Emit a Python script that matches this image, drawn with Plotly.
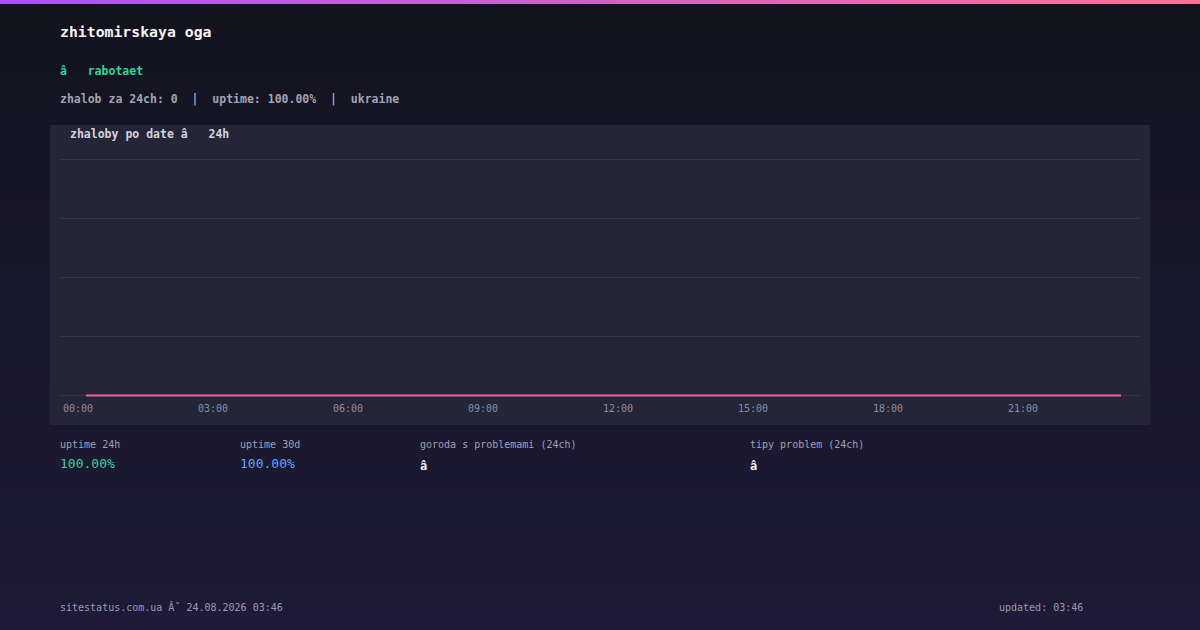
import plotly.graph_objects as go

W, H = 1200, 630

# --- data ---
hours = [f"{h:02d}:00" for h in range(24)]
complaints = [0, 0, 0, 0, 0, 0, 0, 0, 0, 0, 0, 0,
              0, 0, 0, 0, 0, 0, 0, 0, 0, 0, 0, 0]
tick_every = 3

site_name = "zhitomirskaya oga"
status_text = "rabotaet"
complaints_24h = 0
uptime_24h = "100.00%"
uptime_30d = "100.00%"
region = "ukraine"
updated_at = "03:46"
footer_date = "24.08.2026 03:46"

NB = "\u00a0"
MONO = "DejaVu Sans Mono"


def px(x):
    return x / W


def py(y):
    return 1 - y / H


def mix(c1, c2, t):
    return "rgb({},{},{})".format(*[round(a + (b - a) * t) for a, b in zip(c1, c2)])


shapes = []
# page background, dark top to purple-ish bottom
top_c, bot_c = (19, 19, 31), (30, 26, 55)
n = 63
for i in range(n):
    shapes.append(dict(type="rect", xref="paper", yref="paper", layer="below",
                       x0=0, x1=1, y0=py((i + 1) * H / n), y1=py(i * H / n),
                       fillcolor=mix(top_c, bot_c, i / (n - 1)), line_width=0))
# thin gradient strip at the very top
left_c, right_c = (168, 85, 247), (251, 113, 150)
m = 60
for i in range(m):
    shapes.append(dict(type="rect", xref="paper", yref="paper", layer="below",
                       x0=px(i * W / m), x1=px((i + 1) * W / m), y0=py(4), y1=1,
                       fillcolor=mix(left_c, right_c, i / (m - 1)), line_width=0))
# chart card
shapes.append(dict(type="rect", xref="paper", yref="paper", layer="below",
                   x0=px(50), x1=px(1150), y0=py(425), y1=py(125),
                   fillcolor="#252538", line_width=0))

fig = go.Figure()
fig.add_trace(go.Scatter(
    x=list(range(len(hours))), y=complaints, mode="lines",
    line=dict(color="#f263a4", width=2), hoverinfo="skip", showlegend=False,
))

ann = []


def text(x, y, s, size, color, bold=False):
    if bold:
        s = f"<b>{s}</b>"
    ann.append(dict(x=px(x - 1), y=py(y), xref="paper", yref="paper", text=s,
                    showarrow=False, xanchor="left", yanchor="middle",
                    font=dict(family=MONO, size=size, color=color)))


text(59, 31, site_name, 14.8, "#f4f4f8", True)
text(59, 71, f"â{NB*3}{status_text}", 11.5, "#34d399", True)
text(59, 99, f"zhalob za 24ch: {complaints_24h}{NB*2}|{NB*2}uptime: {uptime_24h}{NB*2}|{NB*2}{region}",
     11.5, "#a3a3b5", True)
text(69, 134, f"zhaloby po date â{NB*3}24h", 11.5, "#d4d4de", True)

text(59, 444, "uptime 24h", 10, "#a0a0b2")
text(239, 444, "uptime 30d", 10, "#a0a0b2")
text(419, 444, "goroda s problemami (24ch)", 10, "#a0a0b2")
text(749, 444, "tipy problem (24ch)", 10, "#a0a0b2")
text(59, 463, uptime_24h, 13, "#34d399")
text(239, 463, uptime_30d, 13, "#60a5fa")
text(419, 466, "â", 12, "#f4f4f8", True)
text(749, 466, "â", 12, "#f4f4f8", True)

text(59, 607, f"sitestatus.com.ua Âˇ {footer_date}", 10, "#9a9ab0")
text(998, 607, f"updated: {updated_at}", 10, "#9a9ab0")

x0 = -(86 - 60) / 45
fig.update_layout(
    width=W, height=H, margin=dict(l=0, r=0, t=0, b=0),
    paper_bgcolor="#13131f", plot_bgcolor="rgba(0,0,0,0)",
    shapes=shapes, annotations=ann, showlegend=False,
    xaxis=dict(domain=[px(60), px(1140)], range=[x0, x0 + 24],
               tickmode="array",
               tickvals=list(range(0, 24, tick_every)),
               ticktext=hours[::tick_every],
               showgrid=False, zeroline=False, showline=False,
               ticks="", ticklabelshift=-8, ticklabelstandoff=4,
               tickfont=dict(family=MONO, size=10, color="#8c8ca2"),
               fixedrange=True),
    yaxis=dict(domain=[py(397), py(158)], range=[-0.006, 1.006], dtick=0.25,
               showticklabels=False, showgrid=True, gridcolor="#34344a",
               gridwidth=1, zeroline=False, showline=False, fixedrange=True),
)

fig.write_html("out.html", config={"displayModeBar": False},
               post_script="document.body.style.margin='0';")
